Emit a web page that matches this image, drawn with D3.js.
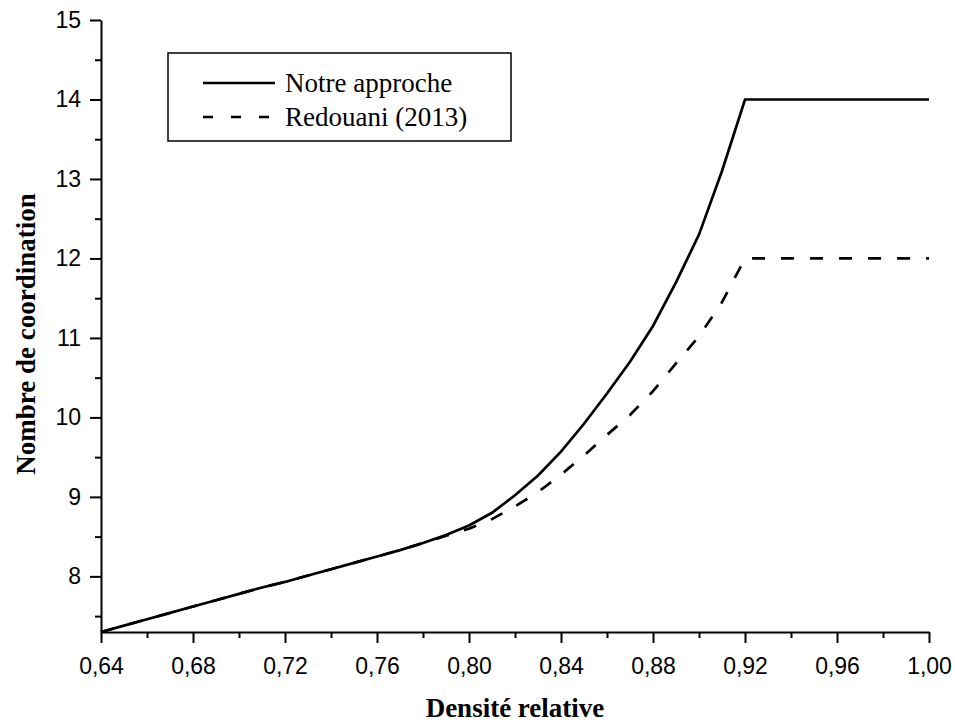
<!DOCTYPE html>
<html><head><meta charset="utf-8">
<script src="https://cdn.jsdelivr.net/npm/d3@7"></script>
<style>body{margin:0;background:#fff}</style>
</head><body>
<svg id="c" width="955" height="722"></svg>
<script>
const xValues = [0.64,0.65,0.66,0.67,0.68,0.69,0.70,0.71,0.72,0.73,0.74,0.75,0.76,0.77,0.78,0.79,0.80,0.81,0.82,0.83,0.84,0.85,0.86,0.87,0.88,0.89,0.90,0.91,0.92,1.00];
const notreApproche = [7.30,7.38,7.46,7.54,7.62,7.70,7.78,7.86,7.93,8.01,8.09,8.17,8.25,8.33,8.42,8.52,8.64,8.80,9.02,9.27,9.57,9.92,10.30,10.70,11.15,11.70,12.30,13.10,14.00,14.00];
const redouani2013 = [7.30,7.38,7.46,7.54,7.62,7.70,7.78,7.86,7.93,8.01,8.09,8.17,8.25,8.33,8.42,8.51,8.60,8.72,8.88,9.06,9.28,9.52,9.78,10.03,10.33,10.68,11.02,11.45,12.00,12.00];
const seriesNames = ["Notre approche","Redouani (2013)"];
const xMajorTicks = [0.64,0.68,0.72,0.76,0.80,0.84,0.88,0.92,0.96,1.00];
const xMinorTicks = [0.66,0.70,0.74,0.78,0.82,0.86,0.90,0.94,0.98];
const yMajorTicks = [8,9,10,11,12,13,14,15];
const yMinorTicks = [7.5,8.5,9.5,10.5,11.5,12.5,13.5,14.5];
const xTitle = "Densité relative";
const yTitle = "Nombre de coordination";

const svg = d3.select("#c");
const L=101,R=929,T=20,B=632;
const x = d3.scaleLinear().domain([0.64,1.00]).range([L,R]);
const y = d3.scaleLinear().domain([7.3,15]).range([B,T]);
const fmt = d => d3.format(".2f")(d).replace(".", ",");

const gxm = svg.append("g").attr("transform",`translate(0,${B})`)
  .call(d3.axisBottom(x).tickValues(xMinorTicks).tickSize(6).tickFormat(""));
const gym = svg.append("g").attr("transform",`translate(${L},0)`)
  .call(d3.axisLeft(y).tickValues(yMinorTicks).tickSize(6).tickFormat(""));
const gx = svg.append("g").attr("transform",`translate(0,${B})`)
  .call(d3.axisBottom(x).tickValues(xMajorTicks).tickSize(11).tickSizeOuter(0).tickPadding(15).tickFormat(fmt));
const gy = svg.append("g").attr("transform",`translate(${L},0)`)
  .call(d3.axisLeft(y).tickValues(yMajorTicks).tickSize(11).tickSizeOuter(0).tickPadding(9).tickFormat(d3.format("d")));
[gxm,gym,gx,gy].forEach(g=>{
  g.selectAll("path,line").attr("stroke","#000").attr("stroke-width",2);
  g.selectAll("text").attr("fill","#000").style("font-family","'Liberation Sans',Arial,sans-serif").style("font-size","23px");
});
gxm.select("path").remove(); gym.select("path").remove();

const line = vals => d3.line().x((d,i)=>x(xValues[i])).y(d=>y(d))(vals);
svg.append("path").attr("d",line(redouani2013)).attr("fill","none").attr("stroke","#000")
  .attr("stroke-width",2.7).attr("stroke-dasharray","13,16");
svg.append("path").attr("d",line(notreApproche)).attr("fill","none").attr("stroke","#000")
  .attr("stroke-width",2.7);

svg.append("rect").attr("x",168).attr("y",53).attr("width",343).attr("height",88)
  .attr("fill","none").attr("stroke","#000").attr("stroke-width",1.5);
const lg = [{y:83,dash:null},{y:117,dash:"10,18"}];
lg.forEach((l,i)=>{
  svg.append("line").attr("x1",203).attr("x2",275).attr("y1",l.y).attr("y2",l.y)
    .attr("stroke","#000").attr("stroke-width",2.7).attr("stroke-dasharray",l.dash);
  svg.append("text").attr("x",285).attr("y",l.y+9).text(seriesNames[i])
    .style("font-family","'Liberation Serif','Times New Roman',serif").style("font-size","27px");
});

svg.append("text").attr("x",(L+R)/2).attr("y",717).attr("text-anchor","middle").text(xTitle)
  .style("font-family","'Liberation Serif','Times New Roman',serif").style("font-size","27px").style("font-weight","bold");
svg.append("text").attr("transform",`translate(35,334) rotate(-90)`).attr("text-anchor","middle").text(yTitle)
  .style("font-family","'Liberation Serif','Times New Roman',serif").style("font-size","27px").style("font-weight","bold");
</script>
</body></html>
